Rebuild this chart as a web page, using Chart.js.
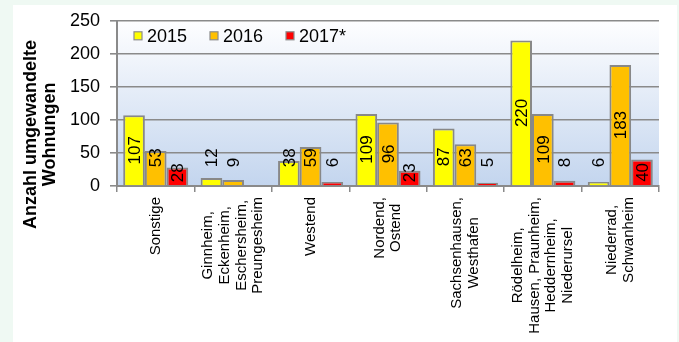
<!DOCTYPE html>
<html lang="de">
<head>
  <meta charset="UTF-8">
  <title>Umgewandelte Wohnungen</title>
  <script src="https://cdn.jsdelivr.net/npm/chart.js"></script>
  <style>
    html, body {
      margin: 0;
      padding: 0;
      background: #eff9f3;
    }
    #chart {
      display: block;
    }
  </style>
</head>
<body>
  <canvas id="chart" width="679" height="342"></canvas>

  <script>
    // Stadtteile (one entry per line of the axis label)
    const categories = [
      ['Sonstige'],
      ['Ginnheim,', 'Eckenheim,', 'Eschersheim,', 'Preungesheim'],
      ['Westend'],
      ['Nordend,', 'Ostend'],
      ['Sachsenhausen,', 'Westhafen'],
      ['Rödelheim,', 'Hausen, Praunheim,', 'Heddernheim,', 'Niederursel'],
      ['Niederrad,', 'Schwanheim']
    ];
    const seriesLabels = ['2015', '2016', '2017*'];
    const values2015 = [107, 12, 38, 109, 87, 220, 6];
    const values2016 = [53, 9, 59, 96, 63, 109, 183];
    const values2017 = [28, null, 6, 23, 5, 8, 40];
    const yMax = 250;
    const yStep = 50;
    const axisTitle = ['Anzahl umgewandelte', 'Wohnungen'];

    const FONT = '"Liberation Sans", Arial, sans-serif';
    const barColors = ['#ffff00', '#ffc000', '#ff0000'];
    const gridColor = '#8a8a8a';

    // backgrounds: mint page, white panel, blue gradient in the plot
    const backdrop = {
      id: 'backdrop',
      beforeDraw(chart) {
        const { ctx, chartArea: a } = chart;
        ctx.save();
        ctx.fillStyle = '#eff9f3';
        ctx.fillRect(0, 0, chart.width, chart.height);
        ctx.fillStyle = '#ffffff';
        ctx.fillRect(13, 5, 664, chart.height - 5);
        const g = ctx.createLinearGradient(0, a.top, 0, a.bottom);
        g.addColorStop(0, '#fefeff');
        g.addColorStop(1, '#c3d5ee');
        ctx.fillStyle = g;
        ctx.fillRect(a.left, a.top, a.right - a.left, a.bottom - a.top);
        ctx.restore();
      }
    };

    // vertical value labels, centred in the bar or floated above short ones
    const valueLabels = {
      id: 'valueLabels',
      afterDatasetsDraw(chart) {
        const ctx = chart.ctx;
        ctx.save();
        ctx.font = '17px ' + FONT;
        ctx.fillStyle = '#000';
        ctx.textAlign = 'center';
        ctx.textBaseline = 'middle';
        chart.data.datasets.forEach((ds, i) => {
          chart.getDatasetMeta(i).data.forEach((bar, j) => {
            const v = ds.data[j];
            if (v === null || v === undefined) return;
            const text = String(v);
            const len = ctx.measureText(text).width;
            const h = bar.base - bar.y;
            let cy;
            if (h < len * 0.7) {
              cy = bar.base - 18 - len / 2;
            } else {
              const gap = i === 2 ? 3 : 18;
              cy = Math.min((bar.y + bar.base) / 2, bar.base - gap - len / 2);
            }
            ctx.save();
            ctx.translate(bar.x, cy);
            ctx.rotate(-Math.PI / 2);
            ctx.fillText(text, 0, 1);
            ctx.restore();
          });
        });
        ctx.restore();
      }
    };

    // legend inside the plot, axis title and rotated category labels
    const decorations = {
      id: 'decorations',
      afterDraw(chart) {
        const { ctx, chartArea: a } = chart;
        ctx.save();

        // legend
        ctx.font = '18px ' + FONT;
        ctx.textBaseline = 'middle';
        ctx.textAlign = 'left';
        const ly = a.top + 15;
        chart.data.datasets.forEach((ds, i) => {
          const bx = a.left + 17 + i * 76;
          ctx.fillStyle = ds.backgroundColor;
          ctx.fillRect(bx, ly - 4, 8, 8);
          ctx.strokeStyle = '#8c8c8c';
          ctx.lineWidth = 1.2;
          ctx.strokeRect(bx, ly - 4, 8, 8);
          ctx.fillStyle = '#000';
          ctx.fillText(ds.label, bx + 13, ly + 1);
        });

        // y axis title
        ctx.font = 'bold 18px ' + FONT;
        ctx.textAlign = 'center';
        const ty = (a.top + a.bottom) / 2 + 31;
        axisTitle.forEach((line, k) => {
          ctx.save();
          ctx.translate(31 + k * 19, ty);
          ctx.rotate(-Math.PI / 2);
          ctx.fillText(line, 0, 0);
          ctx.restore();
        });

        // category labels
        ctx.font = '15px ' + FONT;
        const xScale = chart.scales.x;
        const lineH = 16.7;
        categories.forEach((lines, i) => {
          const cx = xScale.getPixelForValue(i);
          const w = Math.max(...lines.map(l => ctx.measureText(l).width));
          const top = a.bottom + 11;
          lines.forEach((line, k) => {
            ctx.save();
            ctx.translate(cx + (k - (lines.length - 1) / 2) * lineH, top + w / 2);
            ctx.rotate(-Math.PI / 2);
            ctx.fillText(line, 0, 0);
            ctx.restore();
          });
        });

        ctx.restore();
      }
    };

    const chartData = {
      labels: categories.map(c => c.join(' ')),
      datasets: [values2015, values2016, values2017].map((vals, i) => ({
        label: seriesLabels[i],
        data: vals,
        backgroundColor: barColors[i],
        borderColor: '#888888',
        borderWidth: 2,
        borderSkipped: 'bottom',
        categoryPercentage: 0.84,
        barPercentage: 1.0
      }))
    };

    new Chart(document.getElementById('chart'), {
      type: 'bar',
      data: chartData,
      options: {
        responsive: false,
        animation: false,
        layout: { padding: { left: 0, top: 16, right: 20, bottom: 0 } },
        plugins: {
          legend: { display: false },
          tooltip: { enabled: false }
        },
        scales: {
          x: {
            offset: true,
            afterFit(scale) { scale.height = 156; },
            ticks: { display: false },
            grid: {
              offset: true,
              drawOnChartArea: false,
              drawTicks: true,
              tickLength: 6,
              color: gridColor,
              lineWidth: 1.5
            },
            border: { color: gridColor, width: 2 }
          },
          y: {
            min: 0,
            max: yMax,
            afterFit(scale) { scale.width = 117; },
            ticks: {
              stepSize: yStep,
              padding: 10,
              color: '#000',
              font: { family: FONT, size: 18 }
            },
            grid: {
              color: gridColor,
              lineWidth: 1.6,
              tickLength: 7
            },
            border: { color: gridColor, width: 2 }
          }
        }
      },
      plugins: [backdrop, valueLabels, decorations]
    });
  </script>
</body>
</html>
